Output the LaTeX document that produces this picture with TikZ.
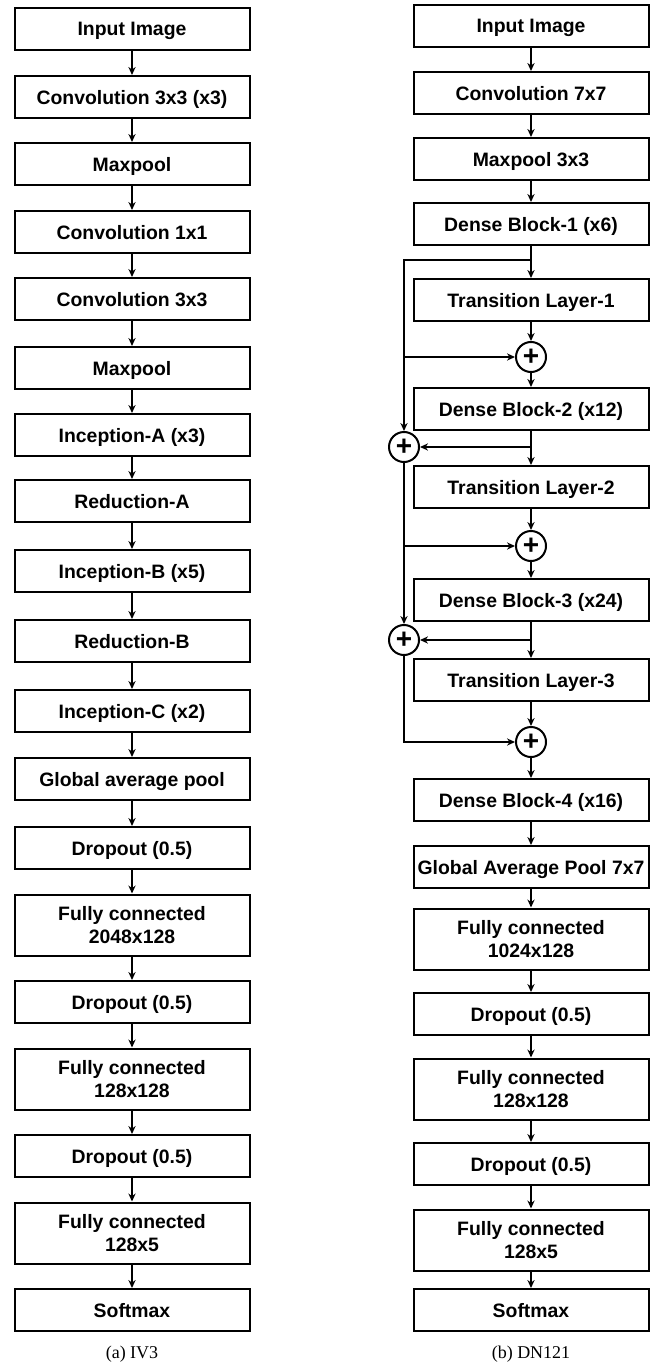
\documentclass[tikz,border=0pt]{standalone}
\usepackage{fontspec}
\setmainfont{Liberation Serif}
\setsansfont{Liberation Sans}
\usetikzlibrary{arrows.meta}

\tikzset{
    layer/.style={draw, line width=1pt, inner sep=0pt, minimum width=117.5pt, minimum height=21pt,
        align=center, text depth=0pt, font=\sffamily\bfseries\fontsize{9.7}{11.8}\selectfont},
    biglayer/.style={layer, minimum height=30.5pt},
    sumnode/.style={draw, circle, line width=1pt, inner sep=0pt, minimum size=15pt,
        font=\sffamily\bfseries\fontsize{14}{14}\selectfont},
    caption/.style={font=\fontsize{9}{10}\selectfont}
}

\begin{document}
\begin{tikzpicture}[>={Stealth[length=4pt,width=3.6pt]}, x=0.5pt, y=-0.5pt, line width=1pt]

    \useasboundingbox (0,0) rectangle (656,1364);

    % Colonna sinistra (IV3)
    \node[layer] (l1) at (132,29) {Input Image};
    \node[layer] (l2) at (132,97) {Convolution 3x3 (x3)};
    \node[layer] (l3) at (132,164) {Maxpool};
    \node[layer] (l4) at (132,232) {Convolution 1x1};
    \node[layer] (l5) at (132,299) {Convolution 3x3};
    \node[layer] (l6) at (132,368) {Maxpool};
    \node[layer] (l7) at (132,435) {Inception-A (x3)};
    \node[layer] (l8) at (132,501) {Reduction-A};
    \node[layer] (l9) at (132,571) {Inception-B (x5)};
    \node[layer] (l10) at (132,641) {Reduction-B};
    \node[layer] (l11) at (132,711) {Inception-C (x2)};
    \node[layer] (l12) at (132,779) {Global average pool};
    \node[layer] (l13) at (132,848) {Dropout (0.5)};
    \node[biglayer] (l14) at (132,925) {Fully connected\\2048x128};
    \node[layer] (l15) at (132,1002) {Dropout (0.5)};
    \node[biglayer] (l16) at (132,1079) {Fully connected\\128x128};
    \node[layer] (l17) at (132,1156) {Dropout (0.5)};
    \node[biglayer] (l18) at (132,1233) {Fully connected\\128x5};
    \node[layer] (l19) at (132,1310) {Softmax};

    \foreach \a/\b in {l1/l2, l2/l3, l3/l4, l4/l5, l5/l6, l6/l7, l7/l8, l8/l9, l9/l10,
        l10/l11, l11/l12, l12/l13, l13/l14, l14/l15, l15/l16, l16/l17, l17/l18, l18/l19}
        \draw[->] (\a) -- (\b);

    % Colonna destra (DN121)
    \node[layer] (r1) at (531,26) {Input Image};
    \node[layer] (r2) at (531,93) {Convolution 7x7};
    \node[layer] (r3) at (531,159) {Maxpool 3x3};
    \node[layer] (r4) at (531,224) {Dense Block-1 (x6)};
    \node[layer] (r5) at (531,300) {Transition Layer-1};
    \node[sumnode] (p1) at (531,357) {+};
    \node[layer] (r6) at (531,409) {Dense Block-2 (x12)};
    \node[layer] (r7) at (531,487) {Transition Layer-2};
    \node[sumnode] (p2) at (531,546) {+};
    \node[layer] (r8) at (531,600) {Dense Block-3 (x24)};
    \node[layer] (r9) at (531,680) {Transition Layer-3};
    \node[sumnode] (p3) at (531,742) {+};
    \node[layer] (r10) at (531,800) {Dense Block-4 (x16)};
    \node[layer] (r11) at (531,867) {Global Average Pool 7x7};
    \node[biglayer] (r12) at (531,939) {Fully connected\\1024x128};
    \node[layer] (r13) at (531,1014) {Dropout (0.5)};
    \node[biglayer] (r14) at (531,1089) {Fully connected\\128x128};
    \node[layer] (r15) at (531,1164) {Dropout (0.5)};
    \node[biglayer] (r16) at (531,1240) {Fully connected\\128x5};
    \node[layer] (r17) at (531,1310) {Softmax};

    % Somme laterali
    \node[sumnode] (q1) at (404,447) {+};
    \node[sumnode] (q2) at (404,640) {+};
    \coordinate (k1) at (531,260);
    \coordinate (k2) at (404,260);

    \foreach \a/\b in {r1/r2, r2/r3, r3/r4, r4/r5, r5/p1, p1/r6, r6/r7, r7/p2, p2/r8,
        r8/r9, r9/p3, p3/r10, r10/r11, r11/r12, r12/r13, r13/r14, r14/r15, r15/r16, r16/r17}
        \draw[->] (\a) -- (\b);

    % Connessioni di salto
    \draw[->] (k1) -- (k2) -- (q1);
    \draw[->] (k2 |- p1) -- (p1);
    \draw[->] (r6 |- q1) -- (q1);
    \draw[->] (q1) -- (q2);
    \draw[->] (q1 |- p2) -- (p2);
    \draw[->] (r8 |- q2) -- (q2);
    \draw[->] (q2) -- (q2 |- p3) -- (p3);

    % Didascalie
    \node[caption] (capa) at (132,1354) {(a) IV3};
    \node[caption] (capb) at (531,1354) {(b) DN121};

\end{tikzpicture}
\end{document}
